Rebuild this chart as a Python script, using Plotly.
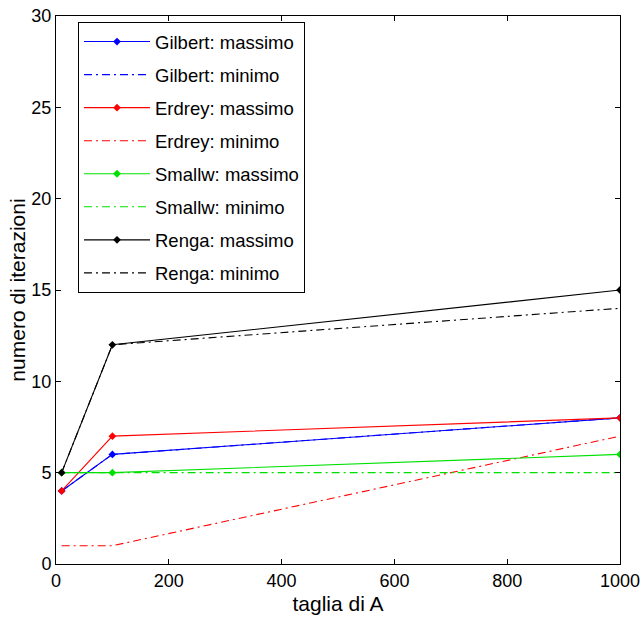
import plotly.graph_objects as go

x_vals = [10, 100, 1000]
gilbert_max = [4, 6, 8]
gilbert_min = [4, 6, 8]
erdrey_max = [4, 7, 8]
erdrey_min = [1, 1, 7]
smallw_max = [5, 5, 6]
smallw_min = [5, 5, 5]
renga_max = [5, 12, 15]
renga_min = [5, 12, 14]

x_ticks = [0, 200, 400, 600, 800, 1000]
y_ticks = [0, 5, 10, 15, 20, 25, 30]

series = [
    ("Gilbert: massimo", gilbert_max, "#0000ff", "solid", True),
    ("Gilbert: minimo", gilbert_min, "#0000ff", "dashdot", False),
    ("Erdrey: massimo", erdrey_max, "#ff0000", "solid", True),
    ("Erdrey: minimo", erdrey_min, "#ff0000", "dashdot", False),
    ("Smallw: massimo", smallw_max, "#00e000", "solid", True),
    ("Smallw: minimo", smallw_min, "#00e000", "dashdot", False),
    ("Renga: massimo", renga_max, "#000000", "solid", True),
    ("Renga: minimo", renga_min, "#000000", "dashdot", False),
]

FONT = "Liberation Sans, Arial, Helvetica"

fig = go.Figure()
for i, (name, ys, color, dash, marker) in enumerate(series):
    fig.add_trace(go.Scatter(
        x=x_vals, y=ys, name=name, legendgroup=f"g{i}",
        mode="lines+markers" if marker else "lines",
        line=dict(color=color, width=1.1, dash="8px,4px,2px,4px" if dash == "dashdot" else "solid"),
        marker=dict(symbol="diamond", size=6, color=color),
    ))

axis_common = dict(
    showgrid=False, zeroline=False, showline=True, linecolor="black", linewidth=1,
    mirror="ticks", ticks="inside", ticklen=5, tickcolor="black", automargin=False,
    ticklabeloverflow="allow",
    tickfont=dict(family=FONT, size=18, color="black"),
)

fig.update_layout(
    width=641, height=625,
    margin=dict(l=56, r=21, t=16, b=61),
    paper_bgcolor="white", plot_bgcolor="white",
    font=dict(family=FONT, size=18, color="black"),
    xaxis=dict(range=[0, 1000], tickvals=x_ticks,
               title=dict(text="taglia di A", font=dict(size=21), standoff=6), **axis_common),
    yaxis=dict(range=[0, 30], tickvals=y_ticks,
               title=dict(text="numero di iterazioni", font=dict(size=21), standoff=0), **axis_common),
    legend=dict(x=0.039, y=0.989, xanchor="left", yanchor="top",
                bordercolor="black", borderwidth=1, bgcolor="white",
                font=dict(family=FONT, size=18.5), tracegroupgap=6, itemwidth=66),
    showlegend=True,
)

# remove the default 8px page margin so the figure fills the window exactly
fig.write_html("out.html", config={"displayModeBar": False},
               post_script="document.body.style.margin='0px';")
